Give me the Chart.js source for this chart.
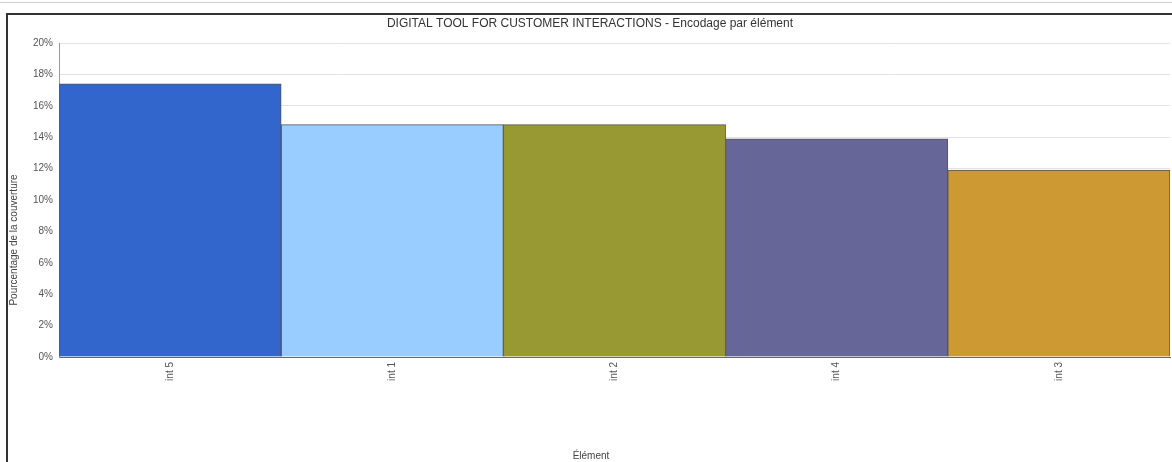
<!DOCTYPE html>
<html lang="fr">
<head>
<meta charset="utf-8">
<title>Encodage par élément</title>
<script src="https://cdn.jsdelivr.net/npm/chart.js@4/dist/chart.umd.min.js"></script>
<style>
  html, body { margin: 0; padding: 0; background: #fff; overflow: hidden; }
  #wrap { position: relative; width: 1172px; height: 462px; }
  .topline { position: absolute; left: 0; right: 0; top: 2px; border-top: 1px solid #cfcfcf; }
  .frame { position: absolute; left: 6px; top: 13px; right: -20px; bottom: -20px; border: 2px solid #333; }
  canvas { position: absolute; left: 0; top: 0; }
</style>
</head>
<body>
<div id="wrap">
  <div class="topline"></div>
  <div class="frame"></div>
  <canvas id="chart" width="1172" height="462"></canvas>
</div>
<script>
const chartTitle = "DIGITAL TOOL FOR CUSTOMER INTERACTIONS - Encodage par élément";
const yTitle = "Pourcentage de la couverture";
const xTitle = "Élément";

const elements = ["int 5", "int 1", "int 2", "int 4", "int 3"];
const coverage = [17.4, 14.8, 14.8, 13.9, 11.9];
const barColors = ["#3366cc", "#99ccff", "#999933", "#666699", "#cc9933"];

const FONT = "'Liberation Sans', Arial, sans-serif";

// titles are placed on the frame, not on the plot area
const frameText = {
  id: "frameText",
  afterDraw(chart) {
    const ctx = chart.ctx;
    ctx.save();
    ctx.fillStyle = "#333";
    ctx.textAlign = "center";
    ctx.textBaseline = "middle";
    ctx.font = "12px " + FONT;
    ctx.fillText(chartTitle, 590, 24);
    ctx.font = "10px " + FONT;
    ctx.fillStyle = "#444";
    ctx.fillText(xTitle, 591, 456);
    ctx.translate(14, 240);
    ctx.rotate(-Math.PI / 2);
    ctx.fillText(yTitle, 0, 0);
    ctx.restore();
  }
};

new Chart(document.getElementById("chart"), {
  type: "bar",
  data: {
    labels: elements,
    datasets: [{
      label: "Couverture",
      data: coverage,
      backgroundColor: barColors,
      borderColor: "#555",
      borderWidth: 1,
      barPercentage: 1,
      categoryPercentage: 1
    }]
  },
  options: {
    responsive: false,
    animation: false,
    layout: { padding: { left: 0, top: 43, right: 2, bottom: 0 } },
    plugins: {
      legend: { display: false },
      tooltip: { enabled: false }
    },
    scales: {
      x: {
        grid: { display: false, drawTicks: false },
        border: { color: "#666", width: 1 },
        ticks: {
          minRotation: 90,
          maxRotation: 90,
          padding: 5,
          color: "#555",
          font: { family: FONT, size: 10 }
        },
        afterFit(scale) { scale.height = 105; }
      },
      y: {
        min: 0,
        max: 20,
        grid: { color: "#e2e2e2", drawTicks: false },
        border: { color: "#999", width: 1 },
        ticks: {
          stepSize: 2,
          padding: 6,
          color: "#555",
          font: { family: FONT, size: 10 },
          callback: (v) => v + "%"
        },
        afterFit(scale) { scale.width = 59; }
      }
    }
  },
  plugins: [frameText]
});
</script>
</body>
</html>
